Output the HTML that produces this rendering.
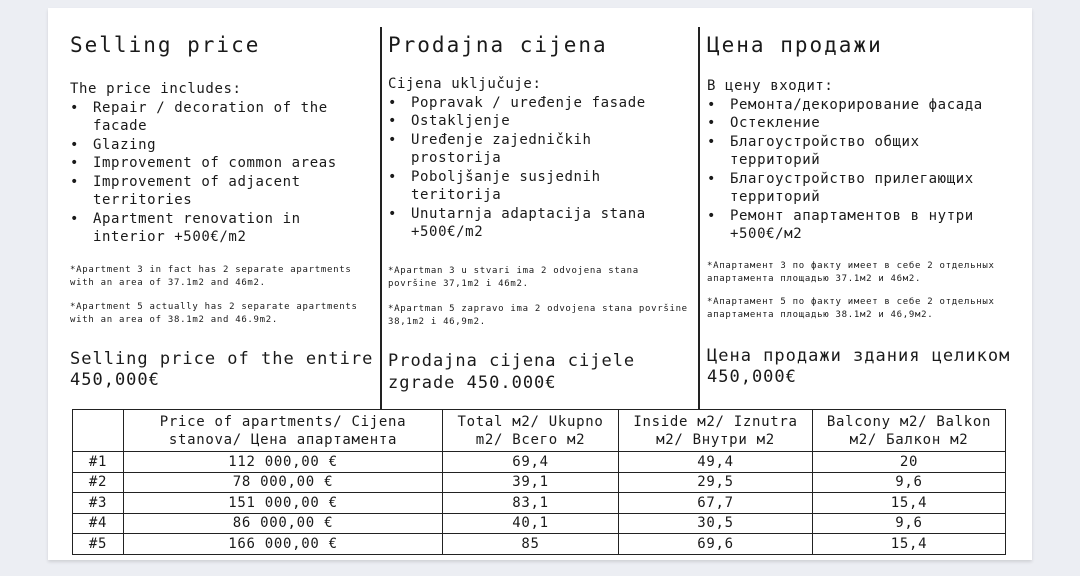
<!DOCTYPE html>
<html><head><meta charset="utf-8"><style>
body{margin:0;width:1080px;height:576px;background:#eceef3;position:relative;overflow:hidden;font-family:"DejaVu Sans Mono","Liberation Mono",monospace;color:#1a1a1a}
.page{position:absolute;left:48px;top:8px;width:984px;height:552px;background:#fff;box-shadow:0 2px 3px rgba(0,0,0,.12)}
.t{position:absolute;white-space:nowrap}
.h{font-size:21px;letter-spacing:2px;line-height:24px}
.b{font-size:14px;letter-spacing:0.6px;line-height:18.5px}
.b i{font-style:normal;display:inline-block;width:23px}
.b u{text-decoration:none;display:inline-block;width:23px}
.s{font-size:9px;letter-spacing:0.7px;line-height:12.5px}
.m{font-size:17px;letter-spacing:1px;line-height:21px}
.vl{position:absolute;width:1.5px;background:#222}
table{position:absolute;left:72px;top:409px;border-collapse:collapse;font-size:14px;letter-spacing:0.7px}
td{border:1.5px solid #222;text-align:center;padding:0;line-height:18px;height:19.5px}
</style></head><body>
<div class="page"></div>
<div class="vl" style="left:380px;top:27px;height:382px"></div>
<div class="vl" style="left:698px;top:27px;height:382px"></div>

<div class="t h" style="left:70px;top:33px">Selling price</div>
<div class="t h" style="left:388px;top:33px">Prodajna cijena</div>
<div class="t h" style="left:707px;top:33px">Цена продажи</div>

<div class="t b" style="left:70px;top:80px">The price includes:<br><i>•</i>Repair / decoration of the<br><u></u>facade<br><i>•</i>Glazing<br><i>•</i>Improvement of common areas<br><i>•</i>Improvement of adjacent<br><u></u>territories<br><i>•</i>Apartment renovation in<br><u></u>interior +500€/m2</div>
<div class="t b" style="left:388px;top:75px">Cijena uključuje:<br><i>•</i>Popravak / uređenje fasade<br><i>•</i>Ostakljenje<br><i>•</i>Uređenje zajedničkih<br><u></u>prostorija<br><i>•</i>Poboljšanje susjednih<br><u></u>teritorija<br><i>•</i>Unutarnja adaptacija stana<br><u></u>+500€/m2</div>
<div class="t b" style="left:707px;top:77px">В цену входит:<br><i>•</i>Ремонта/декорирование фасада<br><i>•</i>Остекление<br><i>•</i>Благоустройство общих<br><u></u>территорий<br><i>•</i>Благоустройство прилегающих<br><u></u>территорий<br><i>•</i>Ремонт апартаментов в нутри<br><u></u>+500€/м2</div>

<div class="t s" style="left:70px;top:264px">*Apartment 3 in fact has 2 separate apartments<br>with an area of 37.1m2 and 46m2.</div>
<div class="t s" style="left:70px;top:301px">*Apartment 5 actually has 2 separate apartments<br>with an area of 38.1m2 and 46.9m2.</div>
<div class="t s" style="left:388px;top:265px">*Apartman 3 u stvari ima 2 odvojena stana<br>površine 37,1m2 i 46m2.</div>
<div class="t s" style="left:388px;top:303px">*Apartman 5 zapravo ima 2 odvojena stana površine<br>38,1m2 i 46,9m2.</div>
<div class="t s" style="left:707px;top:260px">*Апартамент 3 по факту имеет в себе 2 отдельных<br>апартамента площадью 37.1м2 и 46м2.</div>
<div class="t s" style="left:707px;top:296px">*Апартамент 5 по факту имеет в себе 2 отдельных<br>апартамента площадью 38.1м2 и 46,9м2.</div>

<div class="t m" style="left:70px;top:349px">Selling price of the entire<br>450,000€</div>
<div class="t m" style="left:388px;top:350px;line-height:22px">Prodajna cijena cijele<br>zgrade 450.000€</div>
<div class="t m" style="left:707px;top:346px">Цена продажи здания целиком<br>450,000€</div>

<table>
<tr><td style="width:50px;height:41px"></td><td style="width:318px">Price of apartments/ Cijena<br>stanova/ Цена апартамента</td><td style="width:175px">Total м2/ Ukupno<br>m2/ Всего м2</td><td style="width:193px">Inside м2/ Iznutra<br>м2/ Внутри м2</td><td style="width:192px">Balcony м2/ Balkon<br>м2/ Балкон м2</td></tr>
<tr><td>#1</td><td>112 000,00 €</td><td>69,4</td><td>49,4</td><td>20</td></tr>
<tr><td>#2</td><td>78 000,00 €</td><td>39,1</td><td>29,5</td><td>9,6</td></tr>
<tr><td>#3</td><td>151 000,00 €</td><td>83,1</td><td>67,7</td><td>15,4</td></tr>
<tr><td>#4</td><td>86 000,00 €</td><td>40,1</td><td>30,5</td><td>9,6</td></tr>
<tr><td>#5</td><td>166 000,00 €</td><td>85</td><td>69,6</td><td>15,4</td></tr>
</table>
</body></html>
